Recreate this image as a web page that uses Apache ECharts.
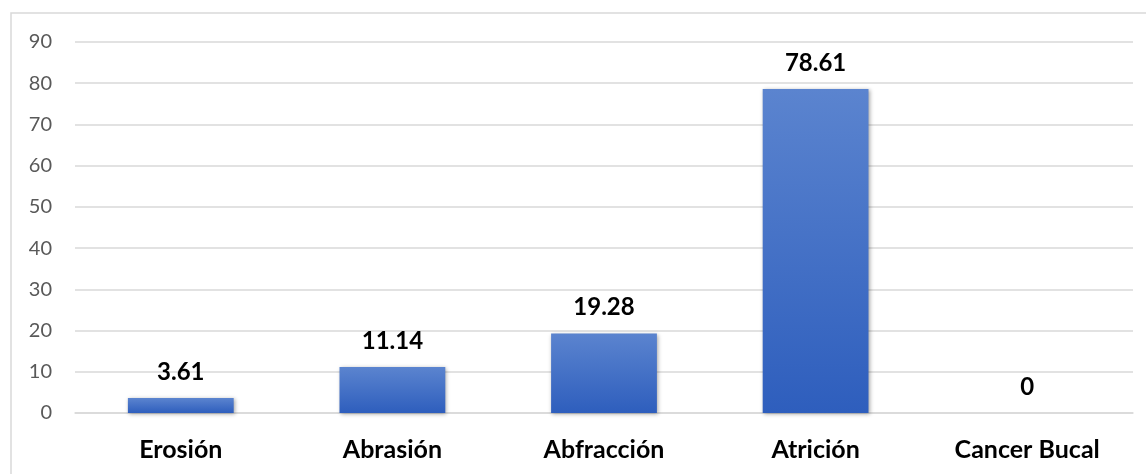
<!DOCTYPE html>
<html><head><meta charset="utf-8">
<script src="https://cdn.jsdelivr.net/npm/echarts@6/dist/echarts.min.js"></script>
<style>html,body{margin:0;padding:0;background:#fff}#c{width:1146px;height:474px}</style>
</head><body><div id="c"></div>
<script>
const categories = ['Erosión', 'Abrasión', 'Abfracción', 'Atrición', 'Cancer Bucal'];
const values = [3.61, 11.14, 19.28, 78.61, 0];
const yTicks = [0, 10, 20, 30, 40, 50, 60, 70, 80, 90];

const chart = echarts.init(document.getElementById('c'), null, {renderer: 'canvas'});
chart.setOption({
  animation: false,
  backgroundColor: '#ffffff',
  graphic: [{
    type: 'rect', silent: true, z: -1,
    shape: {x: 11, y: 13, width: 1200, height: 520},
    style: {fill: 'none', stroke: '#d9d9d9', lineWidth: 1.5}
  }],
  grid: {left: 75, right: 13, top: 42, bottom: 61, containLabel: false},
  xAxis: {
    type: 'category', data: categories,
    axisLine: {show: true, lineStyle: {color: '#d9d9d9', width: 1.5}},
    axisTick: {show: false},
    axisLabel: {margin: 24, color: '#000', fontSize: 25, fontWeight: 'bold', fontFamily: 'Lato'}
  },
  yAxis: {
    type: 'value', min: yTicks[0], max: yTicks[yTicks.length - 1], interval: 10,
    axisLine: {show: false}, axisTick: {show: false},
    splitLine: {lineStyle: {color: '#d9d9d9', width: 1.5}},
    axisLabel: {margin: 23, color: '#595959', fontSize: 20, fontFamily: 'Lato'}
  },
  series: [{
    type: 'bar', data: values, barWidth: '50%',
    itemStyle: {
      color: new echarts.graphic.LinearGradient(0, 0, 0, 1, [
        {offset: 0, color: '#5b84cf'},
        {offset: 1, color: '#2e5ebd'}
      ]),
      shadowColor: 'rgba(0,0,0,0.35)', shadowBlur: 4, shadowOffsetX: 1, shadowOffsetY: 1
    },
    label: {
      show: true, position: 'top', distance: 14,
      color: '#000', fontSize: 24, fontWeight: 'bold', fontFamily: 'Lato'
    }
  }]
});
</script></body></html>
